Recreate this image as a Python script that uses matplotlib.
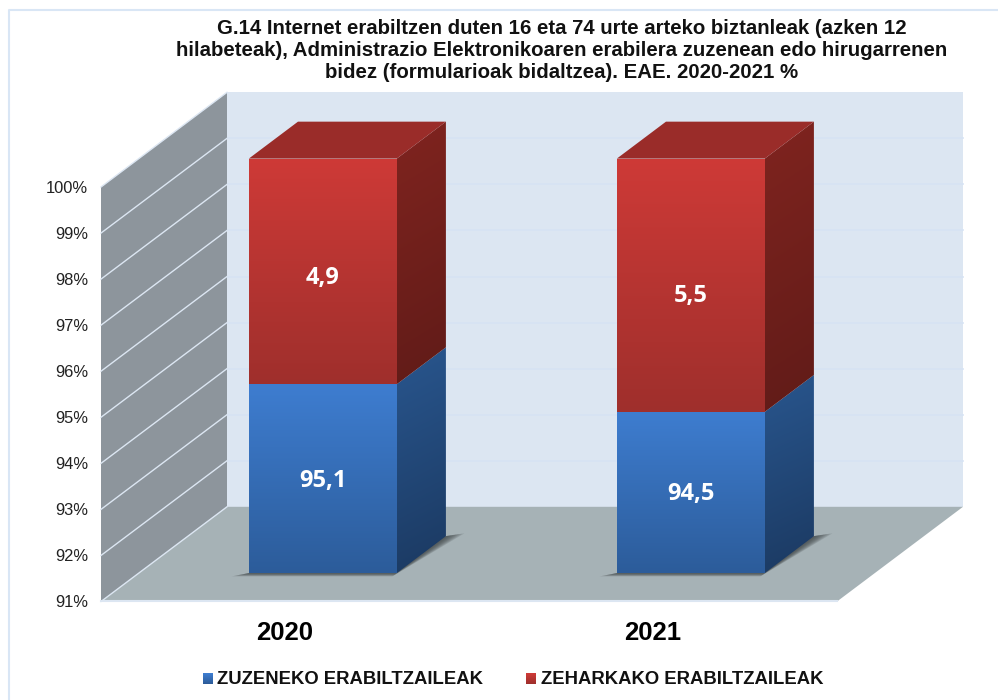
import numpy as np
import matplotlib
matplotlib.use('Agg')
import matplotlib.pyplot as plt
from matplotlib.colors import LinearSegmentedColormap
from matplotlib.patches import Polygon, Rectangle
from matplotlib.transforms import Affine2D

plt.rcParams['font.family'] = ['Liberation Sans', 'DejaVu Sans']

years = ['2020', '2021']
direct = [95.1, 94.5]
indirect = [4.9, 5.5]
direct_labels = ['95,1', '94,5']
indirect_labels = ['4,9', '5,5']
ticks = [91, 92, 93, 94, 95, 96, 97, 98, 99, 100]
legend_names = ['ZUZENEKO ERABILTZAILEAK', 'ZEHARKAKO ERABILTZAILEAK']
title = ('G.14 Internet erabiltzen duten 16 eta 74 urte arteko biztanleak (azken 12\n'
         'hilabeteak), Administrazio Elektronikoaren erabilera zuzenean edo hirugarrenen\n'
         'bidez (formularioak bidaltzea). EAE. 2020-2021 %')

W, H = 998, 700
# front floor edge in pixels, one axes over the whole figure
px_left, px_right = 101, 837
px_base, px_top = 601.5, 187
depth_dx, depth_dy = 126, 94.7
bar_width = 0.402
d0, d1 = 0.30, 0.69

cat_px = (px_right - px_left) / len(years)
val_px = (px_base - px_top) / (ticks[-1] - ticks[0])

fig = plt.figure(figsize=(W / 100, H / 100), dpi=100)
fig.set_facecolor('white')
ax = fig.add_axes([0, 0, 1, 1])
ax.axis('off')
ax.set_xlim(-px_left / cat_px, (W - px_left) / cat_px)
ax.set_ylim(ticks[0] - (H - px_base) / val_px, ticks[0] + px_base / val_px)
ax.autoscale(False)
pixel = Affine2D().scale(1, -1).translate(0, H)


def project(x, v, d=0.0):
    return x + d * depth_dx / cat_px, v + d * depth_dy / val_px


def face(points, color, z, **kw):
    p = Polygon([project(*q) for q in points], closed=True, facecolor=color,
                edgecolor='none', zorder=z, **kw)
    ax.add_patch(p)
    return p


def gradient(points, c_top, c_bottom, z, tilt=0.0):
    pts = [project(*q) for q in points]
    xs, ys = zip(*pts)
    u, v = np.meshgrid(np.linspace(0, 1, 64), np.linspace(0, 1, 256))
    cmap = LinearSegmentedColormap.from_list('g', [c_top, c_bottom])
    im = ax.imshow((1 - tilt) * v + tilt * u, cmap=cmap, vmin=0, vmax=1, aspect='auto',
                   extent=[min(xs), max(xs), min(ys), max(ys)], zorder=z,
                   interpolation='bilinear')
    im.set_clip_path(Polygon(pts, closed=True, transform=ax.transData))


n = len(years)
base = ticks[0]
top = ticks[-1]
label_font = ['Open Sans', 'DejaVu Sans']

# back wall, floor, left wall
face([(0, base, 1), (n, base, 1), (n, top, 1), (0, top, 1)], '#dce6f2', 1)
face([(0, base, 0), (n, base, 0), (n, base, 1), (0, base, 1)], '#a6b2b6', 2)
face([(0, base, 0), (0, base, 1), (0, top, 1), (0, top, 0)], '#8d959c', 2)
for t in ticks[1:-1]:
    ax.plot(*zip(project(0, t, 1), project(n, t, 1)), color='#d6e3f4', lw=1.2, zorder=1.5)
for t in ticks:
    ax.plot(*zip(project(0, t, 0), project(0, t, 1)), color='#dce6f2', lw=1.0, zorder=3)
ax.plot(*zip(project(0, base, 0), project(n, base, 0)), color='#dce6f2', lw=1.5, zorder=3)

# small shifts of the red labels, in pixels
red_nudge = [-7, -11]

for i in range(n):
    x0 = i + 0.5 - bar_width / 2
    x1 = i + 0.5 + bar_width / 2
    split = direct[i]
    end = split + indirect[i]

    # soft shadow on the floor
    for e in np.linspace(1.0, 0.15, 7):
        face([(x0 - e * 0.035, base, d0 - e * 0.035), (x1, base, d0 - e * 0.035),
              (x1 + e * 0.04, base, d1 + e * 0.03), (x1, base, d1)],
             '#3a4042', 4, alpha=0.17)

    gradient([(x0, base, d0), (x1, base, d0), (x1, split, d0), (x0, split, d0)],
             '#3e7dd0', '#2c5c9a', 5)
    gradient([(x1, base, d0), (x1, base, d1), (x1, split, d1), (x1, split, d0)],
             '#29568e', '#1b3961', 5, tilt=0.1)
    gradient([(x0, split, d0), (x1, split, d0), (x1, end, d0), (x0, end, d0)],
             '#ce3a37', '#9f2f2c', 5)
    gradient([(x1, split, d0), (x1, split, d1), (x1, end, d1), (x1, end, d0)],
             '#80241f', '#601b18', 5, tilt=0.1)
    face([(x0, end, d0), (x1, end, d0), (x1, end, d1), (x0, end, d1)], '#9a2c29', 5)

    cx, _ = project(i + 0.5, base, d0)
    _, vy = project(i + 0.5, (base + split) / 2, d0)
    ax.text(cx, vy, direct_labels[i], color='white', fontsize=17, weight='bold',
            family=label_font, ha='center', va='center', zorder=6,
            transform=ax.transData + Affine2D().translate(0, -2))
    _, vy = project(i + 0.5, split + indirect[i] * 0.5, d0)
    ax.text(cx, vy, indirect_labels[i], color='white', fontsize=17, weight='bold',
            family=label_font, ha='center', va='center', zorder=6,
            transform=ax.transData + Affine2D().translate(0, red_nudge[i]))
    ax.text(i + 0.5, base, years[i], fontsize=18.5, weight='bold', ha='center', va='center',
            transform=ax.transData + Affine2D().translate(0, -32), zorder=6)

for t in ticks:
    ax.text(0, t, f'{t}%', fontsize=11.9, color='#222222', ha='right', va='center',
            transform=ax.transData + Affine2D().translate(-13, -1))

fig.text(562 / W, 1 - 51 / H, title, fontsize=14.65, weight='bold', color='#111111',
         ha='center', va='center', linespacing=1.2)

# legend
legend_x = [203, 526]
text_x = [217, 541]
swatches = [('#3e7dd0', '#2c5c9a'), ('#ce3a37', '#9f2f2c')]
for name, lx, tx, (c1, c2) in zip(legend_names, legend_x, text_x, swatches):
    for k, c in enumerate(np.linspace(0, 1, 11)):
        col = LinearSegmentedColormap.from_list('s', [c1, c2])(c)
        ax.add_patch(Rectangle((lx, 673 + k), 10, 1.2, facecolor=col, edgecolor='none',
                               transform=pixel, zorder=6))
    ax.text(tx, 679.5, name, fontsize=13.3, weight='bold', color='#111111',
            ha='left', va='center', transform=pixel)

# outer chart border
ax.plot([8.5, 8.5, W], [H, 9.5, 9.5], color='#d9e6f5', lw=1.5, transform=pixel, zorder=7)

fig.savefig('out.png', dpi=100)
